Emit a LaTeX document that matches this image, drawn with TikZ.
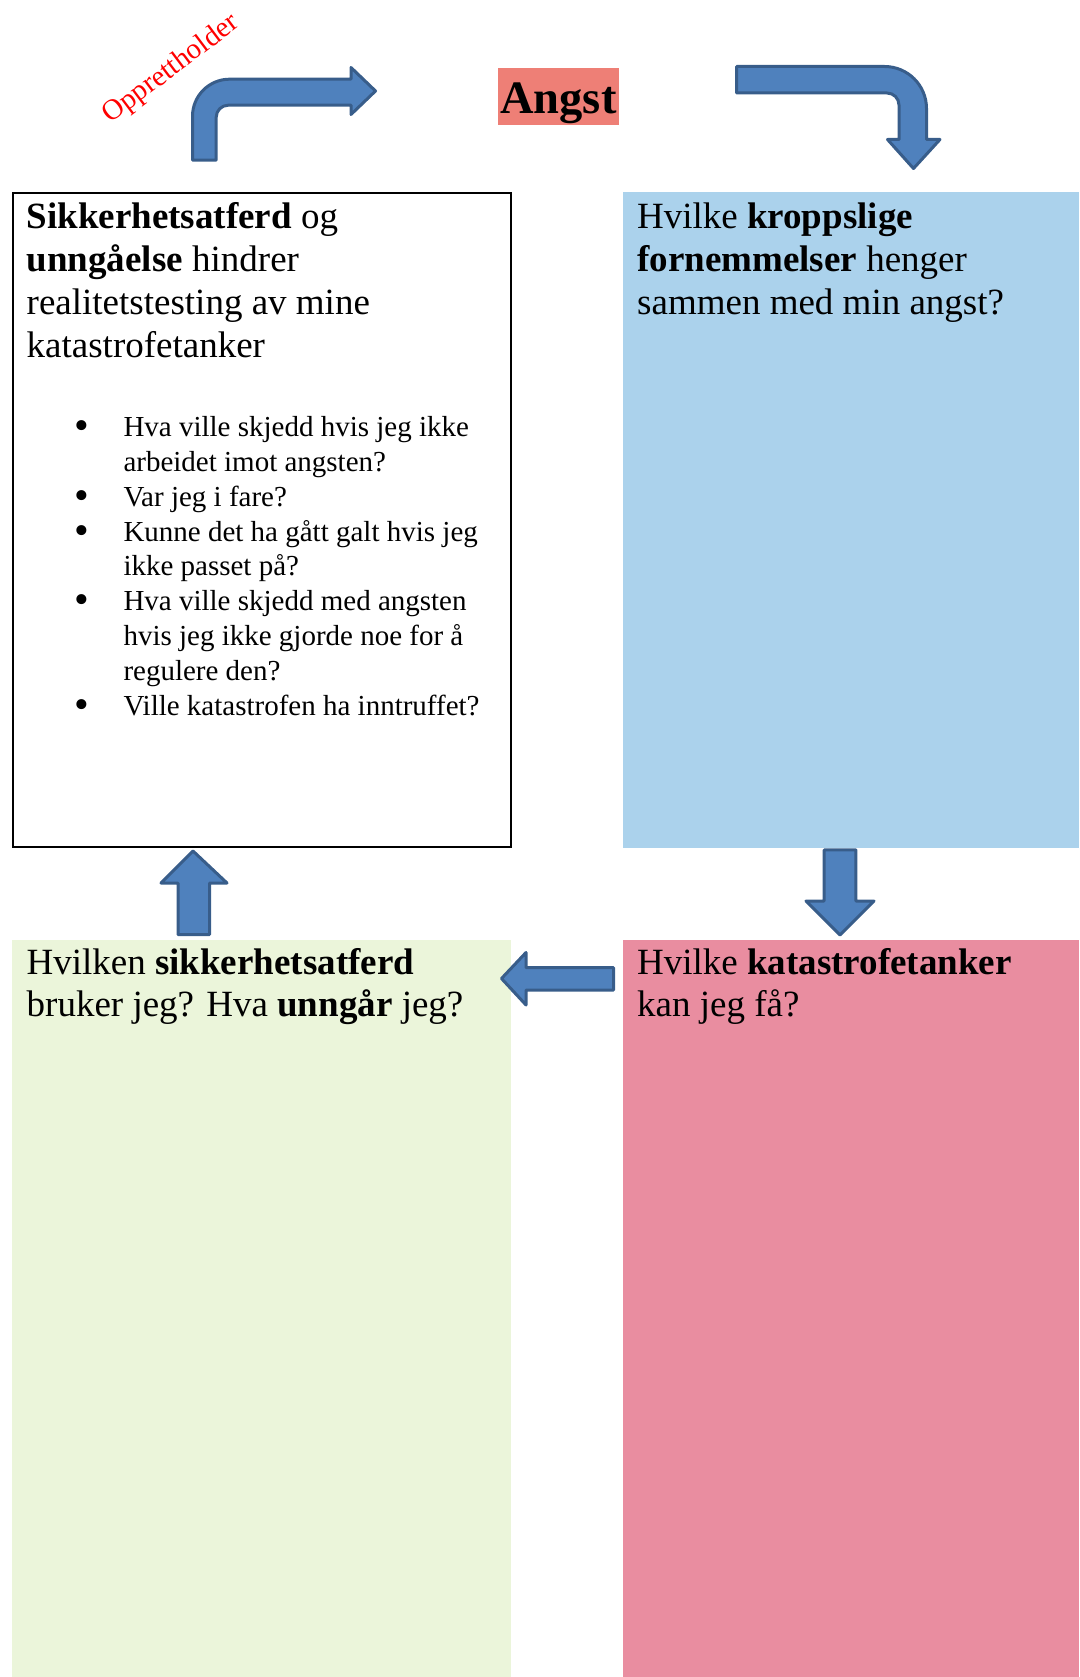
\documentclass[tikz,border=0pt]{standalone}
\usepackage{fontspec}
\setmainfont{Liberation Serif}
\definecolor{arrowfill}{HTML}{4F81BD}
\definecolor{arrowline}{HTML}{385D8A}
\definecolor{boxblue}{HTML}{ABD2EC}
\definecolor{boxgreen}{HTML}{EBF5DA}
\definecolor{boxpink}{HTML}{E98DA0}
\definecolor{angstbg}{HTML}{EE7F76}
\newcommand\bigtxt{\fontsize{37}{43}\selectfont}
\newcommand\listtxt{\fontsize{29}{34.8}\selectfont}
\newcommand\mybul{\makebox[0pt]{\raisebox{-3pt}{\fontsize{42}{42}\selectfont •}}\hspace*{41.8pt}}
\newcommand\myind{\hspace*{41.8pt}}
\begin{document}
\begin{tikzpicture}[x=1pt,y=-1pt,
  blockarrow/.style={fill=arrowfill,draw=arrowline,line width=3pt,line join=round},
  txt/.style={anchor=base west,inner sep=0pt},
  panel/.style={anchor=north west,inner sep=0pt,outer sep=0pt}]
\useasboundingbox (0,0) rectangle (1079,1677);
% panels
\node[panel,draw=black,line width=2pt,minimum width=497.9pt,minimum height=654.3pt] (tl) at (12.8,192.7) {};
\node[panel,fill=boxblue,minimum width=456pt,minimum height=655.5pt] (tr) at (623,192.5) {};
\node[panel,fill=boxgreen,minimum width=499.2pt,minimum height=737pt] (bl) at (11.8,940) {};
\node[panel,fill=boxpink,minimum width=456pt,minimum height=737.5pt] (br) at (623,939.5) {};
% title
\node[fill=angstbg,inner sep=0pt,minimum width=120.7pt,text height=45.3pt,text depth=11.4pt,anchor=base,font=\fontsize{46.5}{50}\selectfont\bfseries] (angst) at (558.4,113.3) {Angst};
\node[txt,rotate=37,text=red,font=\fontsize{29}{31}\selectfont] (oppr) at (110.5,124) {Opprettholder};
% texts
\node[txt] (tltext) at (26.5,228.3) {\parbox[t]{480pt}{\bigtxt
\textbf{Sikkerhetsatferd} og\\
\textbf{unngåelse} hindrer\\
realitetstesting av mine\\
katastrofetanker}};
\node[txt] (tllist) at (81.5,436.7) {\parbox[t]{420pt}{\listtxt
\mybul Hva ville skjedd hvis jeg ikke\\
\myind arbeidet imot angsten?\\
\mybul Var jeg i fare?\\
\mybul Kunne det ha gått galt hvis jeg\\
\myind ikke passet på?\\
\mybul Hva ville skjedd med angsten\\
\myind hvis jeg ikke gjorde noe for å\\
\myind regulere den?\\
\mybul Ville katastrofen ha inntruffet?}};
\node[txt] (trtext) at (637,228.3) {\parbox[t]{430pt}{\bigtxt
Hvilke \textbf{kroppslige}\\
\textbf{fornemmelser} henger\\
sammen med min angst?}};
\node[txt] (bltext) at (26.5,974) {\parbox[t]{480pt}{\fontsize{37}{42.8}\selectfont
Hvilken \textbf{sikkerhetsatferd}\\
bruker jeg? Hva \textbf{unngår} jeg?}};
\node[txt] (brtext) at (637,974) {\parbox[t]{430pt}{\fontsize{37}{42.8}\selectfont
Hvilke \textbf{katastrofetanker}\\
kan jeg få?}};
% block arrows
\draw[blockarrow] (192.5,160.2) -- (192.5,116.2) .. controls (192.5,95.8) and (209.1,79.2) .. (229.5,79.2)
  -- (351,79.2) -- (351,67.5) -- (375.5,91) -- (351,114.5) -- (351,105.2) -- (228.2,105.2)
  .. controls (221.6,105.2) and (216.2,110.6) .. (216.2,117.2) -- (216.2,160.2) -- cycle;
\draw[blockarrow] (736.5,66.5) -- (884.5,66.5) .. controls (907.7,66.5) and (926.5,85.3) .. (926.5,108.5)
  -- (926.5,139.5) -- (940,139.5) -- (913.5,168.5) -- (887.5,139.5) -- (899,139.5) -- (899,105)
  .. controls (899,98.4) and (893.6,93) .. (887,93) -- (736.5,93) -- cycle;
\draw[blockarrow] (824.2,849.8) -- (855.8,849.8) -- (855.8,901) -- (874,901) -- (840,935) -- (806,901) -- (824.2,901) -- cycle;
\draw[blockarrow] (613.5,967.5) -- (526,967.5) -- (526,952.5) -- (501.5,978.5) -- (526,1005) -- (526,990) -- (613.5,990) -- cycle;
\draw[blockarrow] (178,934.5) -- (178,883) -- (161,883) -- (193,851) -- (227,883) -- (209.5,883) -- (209.5,934.5) -- cycle;
\end{tikzpicture}
\end{document}
